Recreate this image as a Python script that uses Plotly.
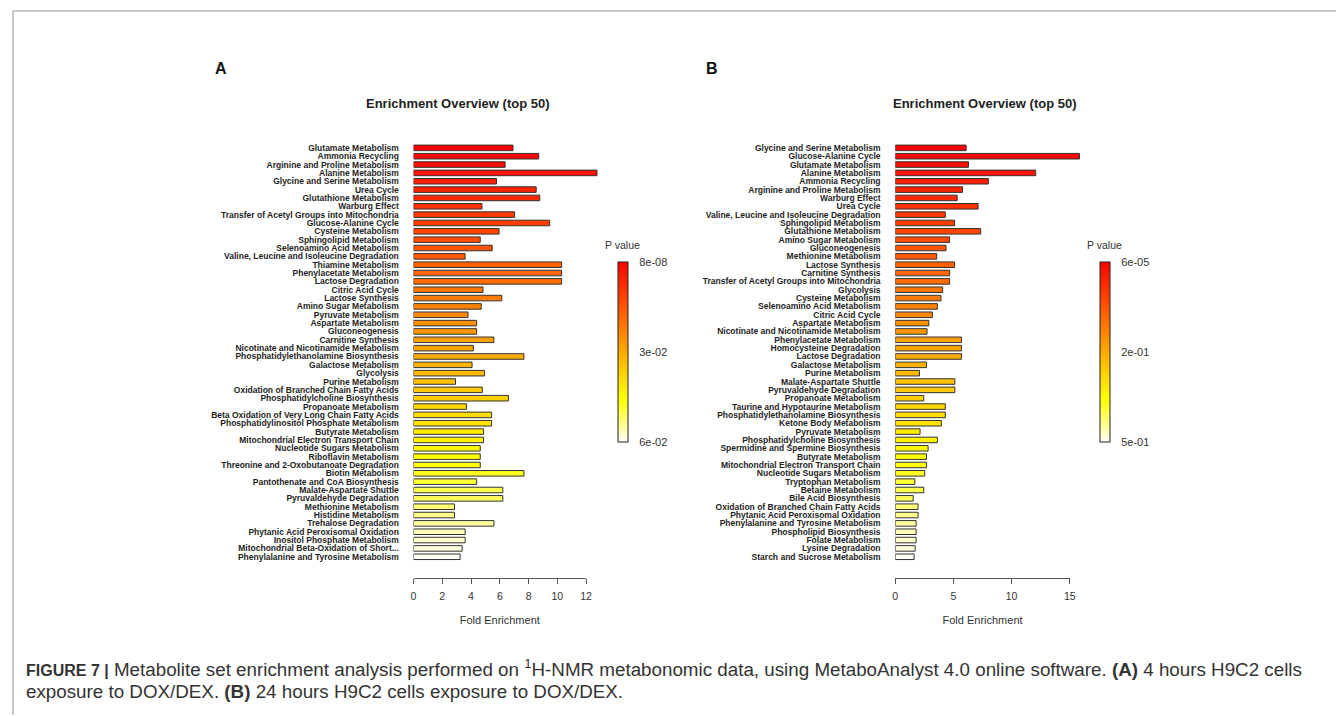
import colorsys
import plotly.graph_objects as go

# ---- Panel A: 4 hours exposure ----
sets_a = [
    "Glutamate Metabolism", "Ammonia Recycling", "Arginine and Proline Metabolism",
    "Alanine Metabolism", "Glycine and Serine Metabolism", "Urea Cycle",
    "Glutathione Metabolism", "Warburg Effect", "Transfer of Acetyl Groups into Mitochondria",
    "Glucose-Alanine Cycle", "Cysteine Metabolism", "Sphingolipid Metabolism",
    "Selenoamino Acid Metabolism", "Valine, Leucine and Isoleucine Degradation",
    "Thiamine Metabolism", "Phenylacetate Metabolism", "Lactose Degradation",
    "Citric Acid Cycle", "Lactose Synthesis", "Amino Sugar Metabolism",
    "Pyruvate Metabolism", "Aspartate Metabolism", "Gluconeogenesis",
    "Carnitine Synthesis", "Nicotinate and Nicotinamide Metabolism",
    "Phosphatidylethanolamine Biosynthesis", "Galactose Metabolism", "Glycolysis",
    "Purine Metabolism", "Oxidation of Branched Chain Fatty Acids",
    "Phosphatidylcholine Biosynthesis", "Propanoate Metabolism",
    "Beta Oxidation of Very Long Chain Fatty Acids",
    "Phosphatidylinositol Phosphate Metabolism", "Butyrate Metabolism",
    "Mitochondrial Electron Transport Chain", "Nucleotide Sugars Metabolism",
    "Riboflavin Metabolism", "Threonine and 2-Oxobutanoate Degradation",
    "Biotin Metabolism", "Pantothenate and CoA Biosynthesis",
    "Malate-Aspartate Shuttle", "Pyruvaldehyde Degradation", "Methionine Metabolism",
    "Histidine Metabolism", "Trehalose Degradation",
    "Phytanic Acid Peroxisomal Oxidation", "Inositol Phosphate Metabolism",
    "Mitochondrial Beta-Oxidation of Short...", "Phenylalanine and Tyrosine Metabolism",
]
fold_a = [
    6.92, 8.71, 6.37, 12.76, 5.77, 8.53, 8.78, 4.76, 7.03, 9.47,
    5.95, 4.64, 5.47, 3.59, 10.30, 10.30, 10.30, 4.83, 6.14, 4.71,
    3.79, 4.39, 4.39, 5.59, 4.16, 7.68, 4.07, 4.94, 2.92, 4.78,
    6.60, 3.68, 5.43, 5.43, 4.87, 4.87, 4.64, 4.64, 4.64, 7.68,
    4.39, 6.21, 6.21, 2.85, 2.85, 5.59, 3.59, 3.59, 3.38, 3.24,
]
pval_labels_a = ["8e-08", "3e-02", "6e-02"]
fold_ticks_a = [0, 2, 4, 6, 8, 10, 12]

# ---- Panel B: 24 hours exposure ----
sets_b = [
    "Glycine and Serine Metabolism", "Glucose-Alanine Cycle", "Glutamate Metabolism",
    "Alanine Metabolism", "Ammonia Recycling", "Arginine and Proline Metabolism",
    "Warburg Effect", "Urea Cycle", "Valine, Leucine and Isoleucine Degradation",
    "Sphingolipid Metabolism", "Glutathione Metabolism", "Amino Sugar Metabolism",
    "Gluconeogenesis", "Methionine Metabolism", "Lactose Synthesis",
    "Carnitine Synthesis", "Transfer of Acetyl Groups into Mitochondria", "Glycolysis",
    "Cysteine Metabolism", "Selenoamino Acid Metabolism", "Citric Acid Cycle",
    "Aspartate Metabolism", "Nicotinate and Nicotinamide Metabolism",
    "Phenylacetate Metabolism", "Homocysteine Degradation", "Lactose Degradation",
    "Galactose Metabolism", "Purine Metabolism", "Malate-Aspartate Shuttle",
    "Pyruvaldehyde Degradation", "Propanoate Metabolism",
    "Taurine and Hypotaurine Metabolism", "Phosphatidylethanolamine Biosynthesis",
    "Ketone Body Metabolism", "Pyruvate Metabolism", "Phosphatidylcholine Biosynthesis",
    "Spermidine and Spermine Biosynthesis", "Butyrate Metabolism",
    "Mitochondrial Electron Transport Chain", "Nucleotide Sugars Metabolism",
    "Tryptophan Metabolism", "Betaine Metabolism", "Bile Acid Biosynthesis",
    "Oxidation of Branched Chain Fatty Acids", "Phytanic Acid Peroxisomal Oxidation",
    "Phenylalanine and Tyrosine Metabolism", "Phospholipid Biosynthesis",
    "Folate Metabolism", "Lysine Degradation", "Starch and Sucrose Metabolism",
]
fold_b = [
    6.09, 15.83, 6.29, 12.07, 8.00, 5.78, 5.32, 7.12, 4.30, 5.10,
    7.34, 4.67, 4.36, 3.56, 5.10, 4.67, 4.67, 4.07, 3.93, 3.62,
    3.19, 2.88, 2.73, 5.69, 5.69, 5.69, 2.68, 2.08, 5.12, 5.12,
    2.45, 4.30, 4.30, 3.96, 2.13, 3.62, 2.82, 2.68, 2.68, 2.53,
    1.68, 2.45, 1.54, 1.96, 1.96, 1.79, 1.79, 1.79, 1.71, 1.62,
]
pval_labels_b = ["6e-05", "2e-01", "5e-01"]
fold_ticks_b = [0, 5, 10, 15]


def heat_colors(n):
    """R's heat.colors(n): red -> yellow, then yellow fading to white."""
    j = n // 4
    i = n - j
    out = []
    for k in range(i):
        out.append(colorsys.hsv_to_rgb((1 / 6) * k / (i - 1), 1, 1))
    s0, s1 = 1 - 1 / (2 * j), 1 / (2 * j)
    for k in range(j):
        s = s0 + (s1 - s0) * k / (j - 1)
        out.append(colorsys.hsv_to_rgb(1 / 6, s, 1))
    return ["rgb(%d,%d,%d)" % (round(r * 255), round(g * 255), round(b * 255)) for r, g, b in out]


W, H = 1342, 716


def px_x(p):
    return p / W


def px_y(p):
    return 1 - p / H


n = len(sets_a)
heat = heat_colors(n)
# colour value: top-ranked set gets the strongest colour
colorscale = [[k / (n - 1), heat[n - 1 - k]] for k in range(n)]
rank_color = [n - 1 - k for k in range(n)]

FONT = "Liberation Sans, Arial, sans-serif"
label_font = dict(family=FONT, size=8.5, color="#1e1e1e", weight="bold")
tick_font = dict(family=FONT, size=10.5, color="#333333")

fig = go.Figure()

# pixel geometry of the two panels
zero_a, unit_a = 413.3, 14.475
zero_b, unit_b = 898.3, 11.713
bar_top, bar_bottom = 143.1, 561.5
axis_line_y = 578.3


def add_panel(names, folds, pvals, cb_x, xa, ya):
    fig.add_trace(go.Bar(
        x=folds, y=names, orientation="h", width=0.667,
        xaxis=xa, yaxis=ya,
        marker=dict(
            color=rank_color, colorscale=colorscale, cmin=0, cmax=n - 1,
            line=dict(color="#333333", width=1),
            colorbar=dict(
                x=px_x(cb_x), xanchor="left", xpad=0, ypad=0,
                y=px_y(352), yanchor="middle",
                thickness=10, thicknessmode="pixels",
                len=180, lenmode="pixels",
                outlinecolor="#222222", outlinewidth=1,
                tickvals=[n - 1, (n - 1) / 2, 0], ticktext=pvals,
                ticks="outside", ticklen=9, tickcolor="rgba(0,0,0,0)",
                tickfont=dict(family=FONT, size=11, color="#333333"),
            ),
        ),
        hoverinfo="x+y", showlegend=False,
    ))


add_panel(sets_a, fold_a, pval_labels_a, 619, "x", "y")
add_panel(sets_b, fold_b, pval_labels_b, 1104.3, "x2", "y2")

# empty traces so the stand-alone fold-enrichment axes are drawn
fig.add_trace(go.Scatter(x=[0], y=[0], xaxis="x3", yaxis="y3", mode="markers",
                         marker=dict(opacity=0), hoverinfo="skip", showlegend=False))
fig.add_trace(go.Scatter(x=[0], y=[0], xaxis="x4", yaxis="y4", mode="markers",
                         marker=dict(opacity=0), hoverinfo="skip", showlegend=False))

bar_ydom = [px_y(bar_bottom), px_y(bar_top)]
cat_axis = dict(
    type="category", domain=bar_ydom, showgrid=False, zeroline=False, showline=False,
    ticks="outside", ticklen=12, tickcolor="rgba(0,0,0,0)", tickfont=label_font,
    tickmode="array", range=[n - 0.5, -0.5],
)
bar_xaxis = dict(showgrid=False, zeroline=False, showline=False, showticklabels=False, ticks="")
fold_axis = dict(
    showgrid=False, zeroline=False, showline=True, linecolor="#555555", linewidth=1,
    ticks="outside", ticklen=5, tickcolor="#555555", tickwidth=1,
    tickfont=tick_font, ticklabelstandoff=4,
    title=dict(text="Fold Enrichment", font=dict(family=FONT, size=11, color="#333333"), standoff=15),
)
tiny_ydom = [px_y(axis_line_y), px_y(axis_line_y) + 0.002]
hidden_y = dict(visible=False, domain=tiny_ydom, range=[-1, 1])

fig.update_layout(
    width=W, height=H, margin=dict(l=0, r=0, t=0, b=0),
    paper_bgcolor="white", plot_bgcolor="white",
    xaxis=dict(bar_xaxis, anchor="y", range=[0, 13],
               domain=[px_x(zero_a), px_x(zero_a + 13 * unit_a)]),
    yaxis=dict(cat_axis, anchor="x", tickvals=sets_a, ticktext=sets_a),
    xaxis2=dict(bar_xaxis, anchor="y2", range=[0, 16.5],
                domain=[px_x(zero_b), px_x(zero_b + 16.5 * unit_b)]),
    yaxis2=dict(cat_axis, anchor="x2", tickvals=sets_b, ticktext=sets_b),
    xaxis3=dict(fold_axis, anchor="y3", range=[0, 12], tickvals=fold_ticks_a,
                domain=[px_x(zero_a), px_x(zero_a + 12 * unit_a)]),
    yaxis3=dict(hidden_y, anchor="x3"),
    xaxis4=dict(fold_axis, anchor="y4", range=[0, 15], tickvals=fold_ticks_b,
                domain=[px_x(zero_b), px_x(zero_b + 15 * unit_b)]),
    yaxis4=dict(hidden_y, anchor="x4"),
)

title_font = dict(family=FONT, size=13, color="#222222", weight="bold")
small_font = dict(family=FONT, size=10.5, color="#333333")
letter_font = dict(family=FONT, size=16, color="#111111", weight="bold")
caption_font = dict(family=FONT, size=18.8, color="#333333")


def note(text, x, y, font, xanchor="center"):
    fig.add_annotation(text=text, x=px_x(x), y=px_y(y), xref="paper", yref="paper",
                       xanchor=xanchor, yanchor="middle", showarrow=False, font=font)


note("A", 219, 67.5, letter_font)
note("B", 714, 67.5, letter_font)
note("Enrichment Overview (top 50)", 458, 103, title_font)
note("Enrichment Overview (top 50)", 989, 103, title_font)
note("P value", 624, 245, small_font)
note("P value", 1109, 245, small_font)

note("<span style='font-size:16px'><b>FIGURE 7 |</b></span> Metabolite set enrichment analysis performed on "
     "<sup>1</sup>H-NMR metabonomic data, using MetaboAnalyst 4.0 online software. "
     "<b>(A)</b> 4 hours H9C2 cells",
     21, 669, caption_font, xanchor="left")
note("exposure to DOX/DEX. <b>(B)</b> 24 hours H9C2 cells exposure to DOX/DEX.",
     21, 692, caption_font, xanchor="left")

# figure frame (top and left rules)
frame = dict(color="#b4b4b4", width=1.5)
fig.add_shape(type="line", xref="paper", yref="paper", x0=px_x(10), x1=1, y0=px_y(10), y1=px_y(10), line=frame)
fig.add_shape(type="line", xref="paper", yref="paper", x0=px_x(10), x1=px_x(10), y0=px_y(10), y1=0, line=frame)

fig.write_html("out.html")
